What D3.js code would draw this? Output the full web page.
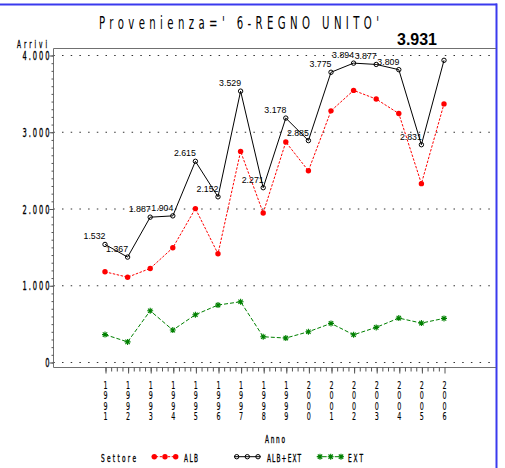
<!DOCTYPE html>
<html><head><meta charset="utf-8">
<script src="https://cdn.jsdelivr.net/npm/d3@7"></script>
<style>body{margin:0;background:#fff}svg{display:block}
.vt{writing-mode:vertical-rl;text-orientation:upright}</style>
</head><body><svg id="c" width="505" height="468"></svg>
<script>
const years = [1991,1992,1993,1994,1995,1996,1997,1998,1999,2000,2001,2002,2003,2004,2005,2006];
const albExt = [1532,1367,1887,1904,2615,2152,3529,2271,3178,2885,3775,3894,3877,3809,2831,3931];
const alb    = [1175,1105,1219,1488,1999,1410,2744,1942,2866,2491,3272,3539,3426,3237,2324,3363];
const ext    = [357,262,668,416,616,742,785,329,312,394,503,355,451,572,507,568];
const yTicks = [0,1000,2000,3000,4000];
const titleText = "Provenienza=' 6-REGNO UNITO'";
const yLabel = "Arrivi", xLabel = "Anno", legendTitle = "Settore";
const seriesNames = ["ALB","ALB+EXT","EXT"];

const svg = d3.select('#c');
const L=53, R=496, T=48, B=367;
const x = d3.scaleLinear().domain([1991,2006]).range([105,444]);
const y = d3.scaleLinear().domain([0,4000]).range([362,55]);
const fmt = d3.formatLocale({decimal:",",thousands:".",grouping:[3],currency:["€",""]}).format(",");
const SAS = "'DejaVu Sans', 'Liberation Sans', Arial, sans-serif";
const K = 0.58;

function sas(g, str, x0, y0, size, width, anchor){
  const t = g.append('text')
    .attr('transform', `translate(${x0},${y0}) scale(${K},1)`)
    .attr('text-anchor', anchor)
    .attr('font-family', SAS).attr('font-size', size).attr('fill','#000')
    .attr('stroke','#000').attr('stroke-width',0.35)
    .text(str);
  if (str.length > 1 && width) t.attr('textLength', width/K).attr('lengthAdjust','spacing');
  return t;
}

// blue screenshot border
svg.append('line').attr('x1',0).attr('x2',497).attr('y1',4.5).attr('y2',4.5).attr('stroke','#3a3aee').attr('stroke-width',2);
svg.append('line').attr('x1',496.5).attr('x2',496.5).attr('y1',3.5).attr('y2',468).attr('stroke','#3a3aee').attr('stroke-width',2);

// title
sas(svg, titleText, 239, 28.5, 17.5, 280, 'middle').attr('stroke-width',0);

// grid
svg.append('g').selectAll('line').data(yTicks).join('line')
  .attr('x1',L+1).attr('x2',494).attr('y1',d=>y(d)+0.5).attr('y2',d=>y(d)+0.5)
  .attr('stroke','#333').attr('stroke-dasharray','1.5 7.2').attr('stroke-dashoffset',-8);

// frame
svg.append('path').attr('d',`M${L+0.5},${T+0.5}H${R}M${L+0.5},${T+0.5}V${B+0.5}H${R}`)
  .attr('fill','none').attr('stroke','#707070').attr('stroke-width',1);

// y axis ticks
const gy = svg.append('g').attr('transform',`translate(${L+0.5},0.5)`);
gy.call(d3.axisLeft(y).tickValues(d3.range(0,4001,100)).tickSize(2).tickFormat(''));
gy.append('g').call(d3.axisLeft(y).tickValues(yTicks).tickSize(4).tickFormat(''));
gy.selectAll('.domain').remove();
gy.selectAll('line').attr('stroke','#555');
yTicks.forEach(v => { const s = fmt(v); sas(svg, s, 49.5, y(v)+5, 11.5, s.length*5.4, 'end'); });
sas(svg, yLabel, 47, 48, 10, 30, 'end');

// x axis ticks
const gx = svg.append('g').attr('transform',`translate(0.5,${B+0.5})`);
gx.call(d3.axisBottom(x).tickValues(d3.range(1991,2006,0.25)).tickSize(4).tickFormat(''));
gx.append('g').call(d3.axisBottom(x).tickValues(years).tickSize(6).tickFormat(''));
gx.selectAll('.domain').remove();
gx.selectAll('line').attr('stroke','#555');
years.forEach(yr => {
  svg.append('text').attr('class','vt')
    .attr('transform', `translate(${x(yr)+0.5},379.5) scale(${K},1)`)
    .attr('font-family',SAS).attr('font-size',11)
    .attr('fill','#000').attr('stroke','#000').attr('stroke-width',0.15)
    .attr('textLength',42.8).attr('lengthAdjust','spacing')
    .text(String(yr));
});
sas(svg, xLabel, 275, 443, 10, 20, 'middle');

// lines
const line = d3.line().x((d,i)=>x(years[i])).y(d=>y(d));
svg.append('path').attr('d',line(ext)).attr('fill','none').attr('stroke','#008000').attr('stroke-width',1).attr('stroke-dasharray','4 2');
svg.append('path').attr('d',line(alb)).attr('fill','none').attr('stroke','#ff0000').attr('stroke-width',1).attr('stroke-dasharray','2.5 1.5');
svg.append('path').attr('d',line(albExt)).attr('fill','none').attr('stroke','#000').attr('stroke-width',1);

const star = 'M-3,0H3M0,-3V3M-2.2,-2.2L2.2,2.2M-2.2,2.2L2.2,-2.2';
function markRed(g,cx,cy){ g.append('circle').attr('cx',cx).attr('cy',cy).attr('r',2.7).attr('fill','#ff0000'); }
function markBlack(g,cx,cy){ g.append('circle').attr('cx',cx).attr('cy',cy).attr('r',2.2).attr('fill','none').attr('stroke','#000').attr('stroke-width',1); }
function markGreen(g,cx,cy){ g.append('path').attr('d',star).attr('transform',`translate(${cx},${cy})`).attr('fill','none').attr('stroke','#008000').attr('stroke-width',1.1); }

const gm = svg.append('g');
ext.forEach((v,i)=>markGreen(gm,x(years[i]),y(v)));
alb.forEach((v,i)=>markRed(gm,x(years[i]),y(v)));
albExt.forEach((v,i)=>markBlack(gm,x(years[i]),y(v)));

// value labels
albExt.forEach((v,i)=>{
  const last = i === albExt.length-1;
  const t = svg.append('text').attr('font-family',"'Liberation Sans', Arial, sans-serif").attr('fill','#000')
    .attr('text-anchor','middle').text(fmt(v));
  if (last) {
    t.attr('x', x(years[i])-27).attr('y', T-3).attr('font-size',16.5).attr('font-weight','bold')
     .attr('textLength',40).attr('lengthAdjust','spacingAndGlyphs');
  } else {
    t.attr('x', x(years[i])-10.5).attr('y', y(v)-5).attr('font-size',9.5)
     .attr('textLength',22).attr('lengthAdjust','spacingAndGlyphs');
  }
});

// legend
const LY = 456.7;
sas(svg, legendTitle, 101, 461.5, 10, 35, 'start');
const lg = svg.append('g');
lg.append('line').attr('x1',151.7).attr('x2',178).attr('y1',LY).attr('y2',LY).attr('stroke','#ff0000').attr('stroke-dasharray','2.5 1.5');
[154.3,165,175.7].forEach(cx=>markRed(lg,cx,LY));
sas(svg, seriesNames[0], 184, 461.5, 10, 14, 'start');
lg.append('line').attr('x1',234).attr('x2',260.7).attr('y1',LY).attr('y2',LY).attr('stroke','#000');
[236.7,247.3,258].forEach(cx=>markBlack(lg,cx,LY));
sas(svg, seriesNames[1], 267, 461.5, 10, 34, 'start');
lg.append('line').attr('x1',316.7).attr('x2',343.3).attr('y1',LY).attr('y2',LY).attr('stroke','#008000').attr('stroke-dasharray','4 2');
[320,330.7,341].forEach(cx=>markGreen(lg,cx,LY));
sas(svg, seriesNames[2], 348, 461.5, 10, 15, 'start');
</script></body></html>
